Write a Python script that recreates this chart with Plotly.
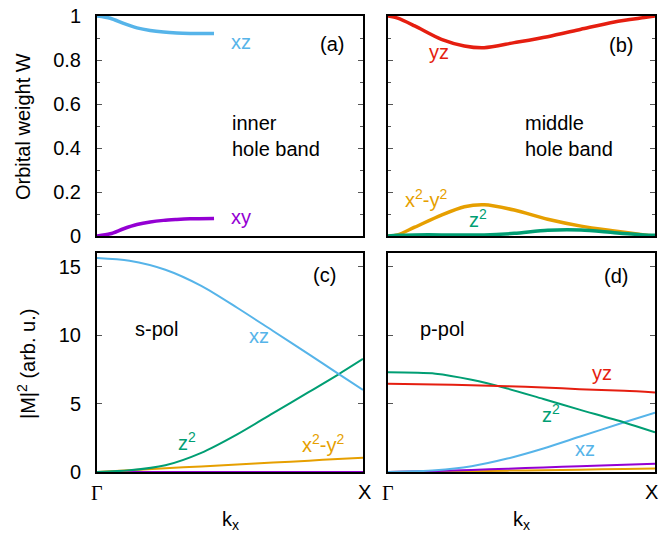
import plotly.graph_objects as go

# ---------------- data ----------------
# (a) inner hole band, orbital weight
a_k = [0, 0.05, 0.1, 0.15, 0.2, 0.25, 0.3, 0.35, 0.44]
a_xz = [1.0, 0.99, 0.966, 0.946, 0.934, 0.927, 0.923, 0.921, 0.92]
a_xy = [0.0, 0.01, 0.033, 0.052, 0.064, 0.071, 0.075, 0.078, 0.08]

# (b) middle hole band, orbital weight
b_k = [0, 0.036, 0.1, 0.2, 0.286, 0.36, 0.473, 0.598, 0.723, 0.848, 0.96, 1.0]
b_yz = [1.0, 0.99, 0.955, 0.894, 0.864, 0.856, 0.879, 0.906, 0.94, 0.973, 0.993, 1.0]
b_x2y2 = [0.0, 0.005, 0.04, 0.095, 0.133, 0.142, 0.118, 0.076, 0.045, 0.023, 0.005, 0.0]
b_z2 = [0.0, 0.003, 0.005, 0.005, 0.005, 0.005, 0.012, 0.026, 0.027, 0.015, 0.005, 0.003]

# (c) s-pol matrix elements
c_k = [0, 0.122, 0.257, 0.392, 0.527, 0.662, 0.797, 0.905, 1.0]
c_xz = [15.64, 15.44, 14.78, 13.6, 12.0, 10.3, 8.6, 7.2, 6.0]
c_z2 = [0.0, 0.12, 0.49, 1.4, 2.75, 4.3, 5.85, 7.1, 8.26]
c_x2y2 = [0.0, 0.13, 0.27, 0.41, 0.55, 0.69, 0.83, 0.95, 1.05]
c_yz = [0, 0, 0, 0, 0, 0, 0, 0, 0]
c_xy = [0, 0, 0, 0, 0, 0, 0, 0, 0]

# (d) p-pol matrix elements
d_k = [0, 0.178, 0.313, 0.447, 0.582, 0.717, 0.885, 1.0]
d_yz = [6.45, 6.4, 6.34, 6.27, 6.18, 6.05, 5.93, 5.81]
d_z2 = [7.28, 7.18, 6.74, 6.1, 5.33, 4.56, 3.62, 2.9]
d_xz = [0.0, 0.12, 0.42, 0.98, 1.72, 2.57, 3.63, 4.34]
d_xy = [0.0, 0.07, 0.15, 0.24, 0.33, 0.42, 0.53, 0.61]
d_x2y2 = [0.0, 0.03, 0.06, 0.1, 0.13, 0.17, 0.22, 0.25]

top_ticks = [0, 0.2, 0.4, 0.6, 0.8, 1]
top_ticktext = ["0", "0.2", "0.4", "0.6", "0.8", "1"]
bot_ticks = [0, 5, 10, 15]

C_XZ = "#56B4E9"
C_XY = "#9400D3"
C_YZ = "#E51E10"
C_X2Y2 = "#E69F00"
C_Z2 = "#009E73"

W, H = 660, 535
FONT = "Liberation Sans, Arial, sans-serif"


def pxx(x):
    return x / W


def pyy(y):
    return 1 - y / H


fig = go.Figure()


def add(x, y, color, width, ax):
    fig.add_trace(go.Scatter(x=x, y=y, mode="lines",
                             line=dict(color=color, width=width, shape="spline", smoothing=0.8),
                             xaxis="x" + ax, yaxis="y" + ax, showlegend=False, hoverinfo="skip"))


add(a_k, a_xz, C_XZ, 3.5, "")
add(a_k, a_xy, C_XY, 3.5, "")
add(b_k, b_yz, C_YZ, 3.5, "2")
add(b_k, b_x2y2, C_X2Y2, 3.5, "2")
add(b_k, b_z2, C_Z2, 3.5, "2")
add(c_k, c_yz, C_YZ, 2, "3")
add(c_k, c_xy, C_XY, 2, "3")
add(c_k, c_x2y2, C_X2Y2, 2, "3")
add(c_k, c_z2, C_Z2, 2, "3")
add(c_k, c_xz, C_XZ, 2, "3")
add(d_k, d_x2y2, C_X2Y2, 2, "4")
add(d_k, d_xy, C_XY, 2, "4")
add(d_k, d_xz, C_XZ, 2, "4")
add(d_k, d_z2, C_Z2, 2, "4")
add(d_k, d_yz, C_YZ, 2, "4")

xl = [pxx(97), pxx(363)]
xr = [pxx(388), pxx(655)]
yt = [pyy(236), pyy(16)]
yb = [pyy(472), pyy(253)]


def xax(dom, anchor):
    return dict(domain=dom, anchor=anchor, range=[0, 1], showline=True, mirror=True,
                linecolor="black", linewidth=2, showgrid=False, zeroline=False,
                ticks="", showticklabels=False, fixedrange=True, automargin=False)


def yax(dom, anchor, top, labels):
    d = dict(domain=dom, anchor=anchor, showline=True, mirror="allticks",
             linecolor="black", linewidth=2, showgrid=False, zeroline=False,
             ticks="inside", ticklen=5, tickwidth=1, tickcolor="#555",
             showticklabels=labels, tickfont=dict(family=FONT, size=20, color="black"),
             ticklabelstandoff=10, ticklabeloverflow="allow",
             fixedrange=True, automargin=False)
    if top:
        d.update(range=[0, 1], tickvals=top_ticks, ticktext=top_ticktext,
                 minor=dict(dtick=0.1, ticks="inside", ticklen=3, tickwidth=1, tickcolor="#555"))
    else:
        d.update(range=[0, 16], tickvals=bot_ticks)
    return d


fig.update_layout(
    width=W, height=H, margin=dict(l=0, r=0, t=0, b=0, autoexpand=False),
    plot_bgcolor="white", paper_bgcolor="white",
    font=dict(family=FONT, size=20, color="black"),
    xaxis=xax(xl, "y"), yaxis=yax(yt, "x", True, True),
    xaxis2=xax(xr, "y2"), yaxis2=yax(yt, "x2", True, False),
    xaxis3=xax(xl, "y3"), yaxis3=yax(yb, "x3", False, True),
    xaxis4=xax(xr, "y4"), yaxis4=yax(yb, "x4", False, False),
)

ann = []


def txt(text, x, y, ax, color="black", xanchor="center"):
    ann.append(dict(text=text, x=x, y=y, xref="x" + ax, yref="y" + ax, showarrow=False,
                    xanchor=xanchor, yanchor="middle", align=xanchor if xanchor != "center" else "center",
                    font=dict(family=FONT, size=20, color=color)))


def ptxt(text, x, y, color="black", family=FONT, angle=0):
    ann.append(dict(text=text, x=pxx(x), y=pyy(y), xref="paper", yref="paper", showarrow=False,
                    xanchor="center", yanchor="middle", textangle=angle,
                    font=dict(family=family, size=20, color=color)))


# panel (a)
txt("xz", 0.54, 0.88, "", C_XZ)
txt("xy", 0.54, 0.086, "", C_XY)
txt("(a)", 0.883, 0.873, "")
txt("inner<br>hole band", 0.50, 0.455, "", xanchor="left")
# panel (b)
txt("yz", 0.19, 0.836, "2", C_YZ)
txt("(b)", 0.873, 0.868, "2")
txt("middle<br>hole band", 0.505, 0.455, "2", xanchor="left")
txt("x<sup>2</sup>-y<sup>2</sup>", 0.142, 0.17, "2", C_X2Y2)
txt("z<sup>2</sup>", 0.337, 0.08, "2", C_Z2)
# panel (c)
txt("(c)", 0.854, 14.4, "3")
txt("s-pol", 0.225, 10.46, "3")
txt("xz", 0.61, 9.95, "3", C_XZ)
txt("z<sup>2</sup>", 0.337, 2.2, "3", C_Z2)
txt("x<sup>2</sup>-y<sup>2</sup>", 0.85, 2.1, "3", C_X2Y2)
# panel (d)
txt("(d)", 0.854, 14.3, "4")
txt("p-pol", 0.204, 10.46, "4")
txt("yz", 0.80, 7.24, "4", C_YZ)
txt("z<sup>2</sup>", 0.61, 4.27, "4", C_Z2)
txt("xz", 0.738, 1.68, "4", C_XZ)

# axis titles and k-point labels
ptxt("Orbital weight W", 23, 127, angle=-90)
ptxt("|M|<sup>2</sup> (arb. u.)", 26, 364, angle=-90)
ptxt("k<sub>x</sub>", 231, 520)
ptxt("k<sub>x</sub>", 521, 520)
ptxt("Γ", 97, 493, family="Liberation Serif, Times New Roman, serif")
ptxt("X", 364, 492)
ptxt("Γ", 388, 493, family="Liberation Serif, Times New Roman, serif")
ptxt("X", 651, 492)

fig.update_layout(annotations=ann)
fig.write_html("out.html", config={"displayModeBar": False},
               post_script="document.body.style.margin='0';document.body.style.overflow='hidden';")
